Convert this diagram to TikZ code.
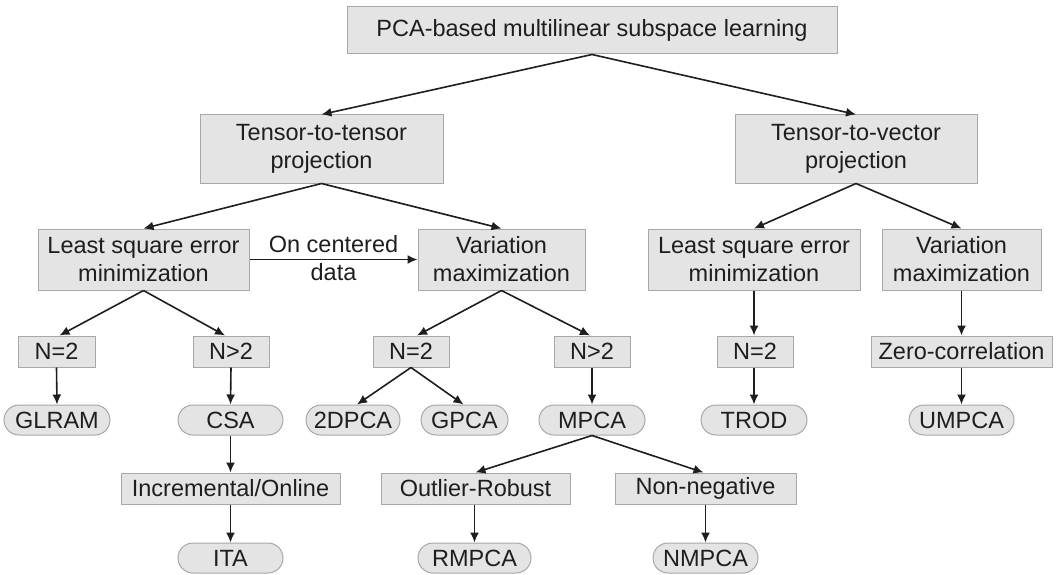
\documentclass[tikz,border=0pt]{standalone}
\usepackage{fontspec}
\setmainfont{Liberation Sans}
\usetikzlibrary{arrows.meta}
\definecolor{boxfill}{HTML}{E4E4E4}
\definecolor{boxline}{HTML}{A8A8A8}
\definecolor{ink}{HTML}{1E1E1E}
\begin{document}
\begin{tikzpicture}[x=1pt,y=-1pt,
  every node/.style={font=\fontsize{23.5}{28}\selectfont, text=ink, inner sep=0pt, align=center},
  box/.style={draw=boxline, fill=boxfill, line width=1pt},
  pill/.style={draw=boxline, fill=boxfill, line width=1pt, rounded corners=15pt},
  link/.style={draw=ink, line width=1.6pt, -{Latex[length=10pt,width=9pt]}}]
\useasboundingbox (0,0) rectangle (1060,575);

% root and projection types
\node[box, minimum width=490pt, minimum height=47pt] (root) at (592,30.5) {PCA-based multilinear subspace learning};
\node[box, minimum width=243pt, minimum height=68pt] (ttt) at (321.5,149) {Tensor-to-tensor\\projection};
\node[box, minimum width=242pt, minimum height=68pt] (ttv) at (856,149) {Tensor-to-vector\\projection};

% objectives
\node[box, minimum width=211pt, minimum height=61pt] (lseA) at (143.5,259.5) {Least square error\\minimization};
\node[box, minimum width=167pt, minimum height=61pt] (vmA) at (501.5,259.5) {Variation\\maximization};
\node[box, minimum width=212pt, minimum height=61pt] (lseB) at (754,259.5) {Least square error\\minimization};
\node[box, minimum width=159pt, minimum height=61pt] (vmB) at (961.5,259.5) {Variation\\maximization};

% order conditions
\node[box, minimum width=77pt, minimum height=31pt] (eqA) at (56.5,351.5) {N=2};
\node[box, minimum width=76pt, minimum height=31pt] (gtA) at (231,351.5) {N>2};
\node[box, minimum width=76pt, minimum height=31pt] (eqB) at (411,351.5) {N=2};
\node[box, minimum width=76pt, minimum height=31pt] (gtB) at (592,351.5) {N>2};
\node[box, minimum width=76pt, minimum height=31pt] (eqC) at (755,351.5) {N=2};
\node[box, minimum width=181pt, minimum height=31pt] (zc) at (961.5,351.5) {Zero-correlation};

% methods
\node[pill, minimum width=106pt, minimum height=30pt] (glram) at (57,420) {GLRAM};
\node[pill, minimum width=105pt, minimum height=30pt] (csa) at (230.5,420) {CSA};
\node[pill, minimum width=94pt, minimum height=30pt] (tdpca) at (353,420) {2DPCA};
\node[pill, minimum width=87pt, minimum height=30pt] (gpca) at (464.5,420) {GPCA};
\node[pill, minimum width=106pt, minimum height=30pt] (mpca) at (592,420) {MPCA};
\node[pill, minimum width=106pt, minimum height=30pt] (trod) at (754,420) {TROD};
\node[pill, minimum width=105pt, minimum height=30pt] (umpca) at (961.5,420) {UMPCA};

% extensions
\node[box, minimum width=219pt, minimum height=31pt] (inc) at (230.5,488.5) {Incremental/Online};
\node[box, minimum width=189pt, minimum height=31pt] (outl) at (475.5,488.5) {Outlier-Robust};
\node[box, minimum width=181pt, minimum height=31pt] (nneg) at (705.5,488.5) {Non-negative};
\node[pill, minimum width=105pt, minimum height=30pt] (ita) at (230.5,558) {ITA};
\node[pill, minimum width=113pt, minimum height=30pt] (rmpca) at (474.5,558) {RMPCA};
\node[pill, minimum width=105pt, minimum height=30pt] (nmpca) at (705.5,558) {NMPCA};

% connectors
\draw[link] (root.south) -- (ttt.north);
\draw[link] (root.south) -- (ttv.north);
\draw[link] (ttt.south) -- (lseA.north);
\draw[link] (ttt.south) -- (vmA.north);
\draw[link] (ttv.south) -- (lseB.north);
\draw[link] (ttv.south) -- (vmB.north);
\draw[link] (lseA.east) -- (vmA.west);
\node (cent) at (333.5,258.5) {On centered\\data};
\draw[link] (lseA.south) -- ([xshift=3pt]eqA.north);
\draw[link] (lseA.south) -- ([xshift=-6pt]gtA.north);
\draw[link] (vmA.south) -- ([xshift=6pt]eqB.north);
\draw[link] (vmA.south) -- ([xshift=-2pt]gtB.north);
\draw[link] (lseB.south) -- (eqC.north -| lseB.south);
\draw[link] (vmB.south) -- (zc.north);
\draw[link] (eqA.south) -- (glram.north);
\draw[link] (gtA.south) -- (csa.north);
\draw[link] (eqB.south) -- ([xshift=4pt]tdpca.north);
\draw[link] (eqB.south) -- ([xshift=-1pt]gpca.north);
\draw[link] (gtB.south) -- (mpca.north);
\draw[link] (eqC.south -| trod.north) -- (trod.north);
\draw[link] (zc.south) -- (umpca.north);
\draw[link] (csa.south) -- (inc.north);
\draw[link] (inc.south) -- (ita.north);
\draw[link] (mpca.south) -- (outl.north);
\draw[link] (mpca.south) -- ([xshift=-2pt]nneg.north);
\draw[link] (outl.south -| rmpca.north) -- (rmpca.north);
\draw[link] (nneg.south) -- (nmpca.north);
\end{tikzpicture}
\end{document}
